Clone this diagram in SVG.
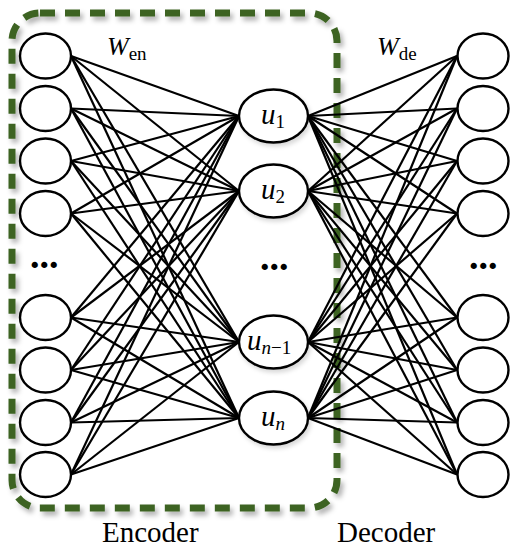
<svg xmlns="http://www.w3.org/2000/svg" width="514" height="550" viewBox="0 0 514 550">
<defs>
<filter id="sh" x="-10%" y="-10%" width="130%" height="130%">
<feDropShadow dx="3" dy="4" stdDeviation="2.5" flood-color="#000" flood-opacity="0.3"/>
</filter>
<filter id="shn" x="-20%" y="-20%" width="150%" height="150%">
<feDropShadow dx="2" dy="3" stdDeviation="2" flood-color="#000" flood-opacity="0.15"/>
</filter>
</defs>
<style>
.n{fill:#fff;stroke:#000;stroke-width:2.4}
.c line{stroke:#000;stroke-width:2.2}
.i{font-style:italic}
</style>
<rect x="0" y="0" width="514" height="550" fill="#fff"/>
<g id="encoder-box">
<rect x="12" y="13" width="325" height="495" rx="28" fill="none" stroke="#3e6424" stroke-width="7" stroke-dasharray="15 10" filter="url(#sh)"/>
</g>
<g class="c" id="connectors">
<line x1="71" y1="56" x2="239" y2="116"/><line x1="71" y1="56" x2="239" y2="191"/><line x1="71" y1="56" x2="239" y2="342"/><line x1="71" y1="56" x2="239" y2="418"/>
<line x1="71" y1="108.5" x2="239" y2="116"/><line x1="71" y1="108.5" x2="239" y2="191"/><line x1="71" y1="108.5" x2="239" y2="342"/><line x1="71" y1="108.5" x2="239" y2="418"/>
<line x1="71" y1="161" x2="239" y2="116"/><line x1="71" y1="161" x2="239" y2="191"/><line x1="71" y1="161" x2="239" y2="342"/><line x1="71" y1="161" x2="239" y2="418"/>
<line x1="71" y1="213.5" x2="239" y2="116"/><line x1="71" y1="213.5" x2="239" y2="191"/><line x1="71" y1="213.5" x2="239" y2="342"/><line x1="71" y1="213.5" x2="239" y2="418"/>
<line x1="71" y1="317.5" x2="239" y2="116"/><line x1="71" y1="317.5" x2="239" y2="191"/><line x1="71" y1="317.5" x2="239" y2="342"/><line x1="71" y1="317.5" x2="239" y2="418"/>
<line x1="71" y1="370" x2="239" y2="116"/><line x1="71" y1="370" x2="239" y2="191"/><line x1="71" y1="370" x2="239" y2="342"/><line x1="71" y1="370" x2="239" y2="418"/>
<line x1="71" y1="422.5" x2="239" y2="116"/><line x1="71" y1="422.5" x2="239" y2="191"/><line x1="71" y1="422.5" x2="239" y2="342"/><line x1="71" y1="422.5" x2="239" y2="418"/>
<line x1="71" y1="474.5" x2="239" y2="116"/><line x1="71" y1="474.5" x2="239" y2="191"/><line x1="71" y1="474.5" x2="239" y2="342"/><line x1="71" y1="474.5" x2="239" y2="418"/>
<line x1="308" y1="116" x2="457" y2="56"/><line x1="308" y1="191" x2="457" y2="56"/><line x1="308" y1="342" x2="457" y2="56"/><line x1="308" y1="418" x2="457" y2="56"/>
<line x1="308" y1="116" x2="457" y2="108.5"/><line x1="308" y1="191" x2="457" y2="108.5"/><line x1="308" y1="342" x2="457" y2="108.5"/><line x1="308" y1="418" x2="457" y2="108.5"/>
<line x1="308" y1="116" x2="457" y2="161"/><line x1="308" y1="191" x2="457" y2="161"/><line x1="308" y1="342" x2="457" y2="161"/><line x1="308" y1="418" x2="457" y2="161"/>
<line x1="308" y1="116" x2="457" y2="213.5"/><line x1="308" y1="191" x2="457" y2="213.5"/><line x1="308" y1="342" x2="457" y2="213.5"/><line x1="308" y1="418" x2="457" y2="213.5"/>
<line x1="308" y1="116" x2="457" y2="317.5"/><line x1="308" y1="191" x2="457" y2="317.5"/><line x1="308" y1="342" x2="457" y2="317.5"/><line x1="308" y1="418" x2="457" y2="317.5"/>
<line x1="308" y1="116" x2="457" y2="370"/><line x1="308" y1="191" x2="457" y2="370"/><line x1="308" y1="342" x2="457" y2="370"/><line x1="308" y1="418" x2="457" y2="370"/>
<line x1="308" y1="116" x2="457" y2="422.5"/><line x1="308" y1="191" x2="457" y2="422.5"/><line x1="308" y1="342" x2="457" y2="422.5"/><line x1="308" y1="418" x2="457" y2="422.5"/>
<line x1="308" y1="116" x2="457" y2="474.5"/><line x1="308" y1="191" x2="457" y2="474.5"/><line x1="308" y1="342" x2="457" y2="474.5"/><line x1="308" y1="418" x2="457" y2="474.5"/>
</g>
<g id="in1"><ellipse class="n" cx="45.5" cy="56" rx="25.5" ry="22.5"/></g>
<g id="in2"><ellipse class="n" cx="45.5" cy="108.5" rx="25.5" ry="22.5"/></g>
<g id="in3"><ellipse class="n" cx="45.5" cy="161" rx="25.5" ry="22.5"/></g>
<g id="in4"><ellipse class="n" cx="45.5" cy="213.5" rx="25.5" ry="22.5"/></g>
<g id="in5"><ellipse class="n" cx="45.5" cy="317.5" rx="25.5" ry="22.5"/></g>
<g id="in6"><ellipse class="n" cx="45.5" cy="370" rx="25.5" ry="22.5"/></g>
<g id="in7"><ellipse class="n" cx="45.5" cy="422.5" rx="25.5" ry="22.5"/></g>
<g id="in8"><ellipse class="n" cx="45.5" cy="474.5" rx="25.5" ry="22.5"/></g>
<g id="out1"><ellipse class="n" cx="483" cy="56" rx="25.5" ry="22.5"/></g>
<g id="out2"><ellipse class="n" cx="483" cy="108.5" rx="25.5" ry="22.5"/></g>
<g id="out3"><ellipse class="n" cx="483" cy="161" rx="25.5" ry="22.5"/></g>
<g id="out4"><ellipse class="n" cx="483" cy="213.5" rx="25.5" ry="22.5"/></g>
<g id="out5"><ellipse class="n" cx="483" cy="317.5" rx="25.5" ry="22.5"/></g>
<g id="out6"><ellipse class="n" cx="483" cy="370" rx="25.5" ry="22.5"/></g>
<g id="out7"><ellipse class="n" cx="483" cy="422.5" rx="25.5" ry="22.5"/></g>
<g id="out8"><ellipse class="n" cx="483" cy="474.5" rx="25.5" ry="22.5"/></g>
<g font-family="Liberation Serif, serif">
<g id="u1"><ellipse class="n" cx="273.5" cy="116" rx="34.5" ry="26.5" filter="url(#shn)"/>
<text x="261" y="124"><tspan class="i" font-size="29">u</tspan><tspan font-size="19" dy="4">1</tspan></text></g>
<g id="u2"><ellipse class="n" cx="273.5" cy="191" rx="34.5" ry="26.5" filter="url(#shn)"/>
<text x="261" y="199"><tspan class="i" font-size="29">u</tspan><tspan font-size="19" dy="4">2</tspan></text></g>
<g id="un1"><ellipse class="n" cx="273.5" cy="342" rx="34.5" ry="26.5" filter="url(#shn)"/>
<text x="247" y="350"><tspan class="i" font-size="29">u</tspan><tspan class="i" font-size="19" dy="4">n</tspan><tspan font-size="19">−1</tspan></text></g>
<g id="un"><ellipse class="n" cx="273.5" cy="418" rx="34.5" ry="26.5" filter="url(#shn)"/>
<text x="261" y="426"><tspan class="i" font-size="29">u</tspan><tspan class="i" font-size="19" dy="4">n</tspan></text></g>
<g id="labels">
<text x="107" y="55"><tspan class="i" font-size="26">W</tspan><tspan font-size="19" dy="5">en</tspan></text>
<text x="377" y="55"><tspan class="i" font-size="26">W</tspan><tspan font-size="19" dy="5">de</tspan></text>
<text x="30" y="268" font-weight="bold" font-size="38">...</text>
<text x="260" y="270" font-weight="bold" font-size="38">...</text>
<text x="469" y="269" font-weight="bold" font-size="38">...</text>
<text x="102" y="542" font-size="29">Encoder</text>
<text x="337" y="542" font-size="29">Decoder</text>
</g>
</g>
</svg>
